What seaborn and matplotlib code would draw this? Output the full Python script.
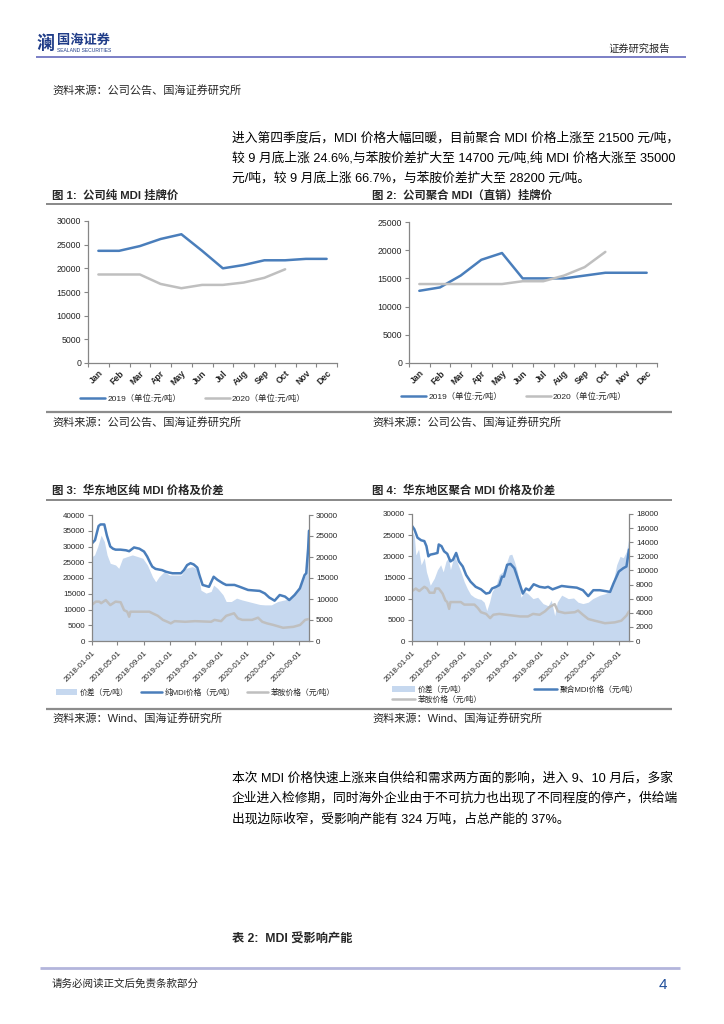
import numpy as np
import pandas as pd
import matplotlib
matplotlib.use('Agg')
import matplotlib.pyplot as plt
from matplotlib.lines import Line2D
from matplotlib.patches import Patch
import seaborn as sns

sns.set_theme(style='white')
plt.rcParams['font.family'] = ['Liberation Sans', 'Noto Sans CJK SC']
plt.rcParams['axes.unicode_minus'] = False

# ---------------- data ----------------
months = ['Jan', 'Feb', 'Mar', 'Apr', 'May', 'Jun', 'Jul', 'Aug', 'Sep', 'Oct', 'Nov', 'Dec']
pure_2019 = [23700, 23700, 24700, 26200, 27200, 23700, 20000, 20700, 21700, 21700, 22000, 22000]
pure_2020 = [18700, 18700, 18700, 16700, 15800, 16500, 16500, 17000, 18000, 19800]
poly_2019 = [12800, 13400, 15500, 18300, 19500, 15000, 15000, 15000, 15500, 16000, 16000, 16000]
poly_2020 = [14000, 14000, 14000, 14000, 14000, 14500, 14500, 15500, 17000, 19700]

date_ticks = ['2018-01-01', '2018-05-01', '2018-09-01', '2019-01-01', '2019-05-01',
              '2019-09-01', '2020-01-01', '2020-05-01', '2020-09-01']

# Fig 3: East China pure MDI
pure_dates = ['2018-01-01', '2018-01-15', '2018-02-01', '2018-02-10', '2018-02-28', '2018-03-12',
              '2018-03-28', '2018-04-10', '2018-04-22', '2018-05-15', '2018-06-10', '2018-06-25',
              '2018-07-18', '2018-08-12', '2018-09-03', '2018-09-18', '2018-10-03', '2018-10-12',
              '2018-10-27', '2018-11-27', '2018-12-15', '2019-01-01', '2019-01-15', '2019-02-24',
              '2019-03-10', '2019-03-25', '2019-04-10', '2019-04-25', '2019-05-12', '2019-05-22',
              '2019-06-06', '2019-07-06', '2019-07-28', '2019-08-15', '2019-09-10', '2019-09-25',
              '2019-11-03', '2019-11-28', '2020-01-06', '2020-03-01', '2020-03-25', '2020-04-15',
              '2020-05-10', '2020-06-03', '2020-06-28', '2020-07-18', '2020-08-12', '2020-09-06',
              '2020-09-28', '2020-10-06', '2020-10-15', '2020-10-19']
pure_price = [31000, 32000, 36500, 37000, 37000, 33500,
              30000, 29300, 29000, 29000, 28800, 28500,
              29700, 29300, 28400, 26800, 24700, 23600,
              22900, 22500, 22000, 21700, 21500, 21500,
              22500, 24100, 24700, 24300, 23300, 20900,
              17800, 17200, 20400, 19400, 18300, 17800,
              17800, 17200, 16200, 15900, 15100, 13800,
              12800, 14600, 14100, 13000, 14600, 16700,
              20900, 21500, 29400, 35000]

ani3_dates = ['2018-01-01', '2018-01-19', '2018-02-04', '2018-02-13', '2018-03-07', '2018-03-28',
              '2018-04-22', '2018-05-16', '2018-06-01', '2018-06-16', '2018-06-25', '2018-07-01',
              '2018-09-28', '2018-10-13', '2018-11-07', '2018-12-01', '2018-12-22', '2019-01-07',
              '2019-01-25', '2019-03-16', '2019-05-01', '2019-07-16', '2019-08-01', '2019-09-01',
              '2019-09-25', '2019-11-01', '2019-11-19', '2019-12-10', '2020-01-25', '2020-02-22',
              '2020-03-13', '2020-04-04', '2020-05-04', '2020-06-19', '2020-08-07', '2020-09-07',
              '2020-10-01', '2020-10-19']
ani3_price = [11500, 12500, 12500, 12000, 13000, 11400,
              12500, 12300, 9800, 9300, 7700, 9300,
              9300, 8800, 8000, 6700, 6100, 5600,
              6300, 6100, 6300, 6100, 6700, 6300,
              8000, 8800, 7200, 6700, 6700, 7400,
              6100, 5600, 5100, 4200, 4500, 5100,
              6700, 7000]

spr3_dates = ['2018-01-01', '2018-01-13', '2018-01-28', '2018-02-13', '2018-02-28', '2018-03-13',
              '2018-03-28', '2018-04-22', '2018-05-07', '2018-05-25', '2018-06-16', '2018-07-10',
              '2018-08-04', '2018-08-28', '2018-09-19', '2018-10-13', '2018-10-28', '2018-11-13',
              '2018-12-07', '2019-01-01', '2019-02-25', '2019-03-19', '2019-04-19', '2019-05-07',
              '2019-05-22', '2019-05-29', '2019-06-22', '2019-07-16', '2019-07-28', '2019-08-16',
              '2019-09-10', '2019-09-25', '2019-10-19', '2019-11-13', '2019-12-07', '2020-01-22',
              '2020-03-01', '2020-03-25', '2020-04-25', '2020-05-25', '2020-06-28', '2020-07-28',
              '2020-08-28', '2020-09-22', '2020-10-07', '2020-10-13', '2020-10-19']
spr3_value = [20100, 20500, 22500, 25200, 23700, 20500,
              18500, 18100, 17300, 19700, 20100, 20500,
              20100, 19700, 18100, 15300, 14100, 15300,
              16500, 15700, 15700, 17300, 17700, 17300,
              14300, 12100, 11400, 11800, 13300, 12500,
              11000, 9400, 9400, 10200, 9800, 9200,
              8700, 8600, 8600, 9400, 9800, 10200,
              11800, 14900, 16000, 22000, 28200]

# Fig 4: East China polymeric MDI
poly_dates = ['2018-01-01', '2018-01-12', '2018-01-27', '2018-02-13', '2018-02-28', '2018-03-10',
              '2018-03-19', '2018-03-28', '2018-04-16', '2018-05-01', '2018-05-07', '2018-05-20',
              '2018-06-01', '2018-06-16', '2018-07-01', '2018-07-13', '2018-07-28', '2018-08-10',
              '2018-08-28', '2018-09-13', '2018-10-04', '2018-10-28', '2018-11-22', '2018-12-16',
              '2019-01-01', '2019-01-13', '2019-02-01', '2019-02-16', '2019-03-01', '2019-03-10',
              '2019-03-25', '2019-04-10', '2019-04-28', '2019-05-13', '2019-05-25', '2019-06-07',
              '2019-06-22', '2019-07-07', '2019-07-28', '2019-08-25', '2019-09-19', '2019-10-04',
              '2019-10-25', '2019-12-07', '2020-01-07', '2020-02-16', '2020-03-16', '2020-04-10',
              '2020-05-04', '2020-06-04', '2020-07-22', '2020-08-07', '2020-09-01', '2020-09-22',
              '2020-10-07', '2020-10-19']
poly_price = [27200, 26400, 24400, 23800, 23600, 22400,
              20000, 20400, 20600, 20800, 22800, 22400,
              21200, 20600, 18800, 19200, 20800, 18800,
              17600, 15600, 14000, 12800, 12200, 11200,
              11400, 12400, 12800, 13200, 15200, 15200,
              18000, 18200, 17200, 15000, 13200, 11200,
              12400, 12000, 13400, 12800, 12600, 12800,
              12200, 13000, 12800, 12600, 12000, 10600,
              12000, 12000, 11600, 13600, 16400, 17200,
              17600, 21600]

ani4_dates = ['2018-01-01', '2018-01-19', '2018-02-04', '2018-02-28', '2018-03-13', '2018-03-25',
              '2018-04-16', '2018-04-22', '2018-05-07', '2018-05-25', '2018-06-07', '2018-06-16',
              '2018-06-25', '2018-07-01', '2018-08-19', '2018-09-04', '2018-10-22', '2018-11-07',
              '2018-11-22', '2018-12-16', '2019-01-04', '2019-01-19', '2019-02-16', '2019-05-25',
              '2019-07-01', '2019-07-25', '2019-08-25', '2019-09-19', '2019-10-10', '2019-11-04',
              '2019-11-19', '2019-12-22', '2020-02-07', '2020-02-22', '2020-03-16', '2020-04-10',
              '2020-05-10', '2020-06-28', '2020-08-13', '2020-09-13', '2020-10-07', '2020-10-19']
ani4_price = [11800, 12400, 11800, 12800, 12400, 11400,
              11400, 12400, 12400, 11200, 9600, 9200,
              7600, 9200, 9200, 8600, 8600, 7800,
              6800, 6400, 5400, 6200, 6400, 5800,
              5800, 6400, 6200, 7000, 8000, 8700,
              7000, 6600, 6800, 7200, 6200, 5200,
              4800, 4200, 4400, 4800, 6000, 7000]

spr4_dates = ['2018-01-01', '2018-01-12', '2018-01-19', '2018-02-01', '2018-02-13', '2018-02-28',
              '2018-03-10', '2018-03-19', '2018-03-28', '2018-04-16', '2018-05-01', '2018-05-16',
              '2018-05-28', '2018-06-10', '2018-06-22', '2018-07-01', '2018-07-19', '2018-08-04',
              '2018-08-19', '2018-09-04', '2018-09-19', '2018-10-04', '2018-10-22', '2018-11-07',
              '2018-11-22', '2018-12-07', '2018-12-19', '2019-01-01', '2019-01-13', '2019-02-01',
              '2019-02-16', '2019-03-04', '2019-03-19', '2019-04-04', '2019-04-16', '2019-04-28',
              '2019-05-13', '2019-05-25', '2019-05-29', '2019-06-16', '2019-07-01', '2019-07-25',
              '2019-08-16', '2019-09-10', '2019-10-04', '2019-10-19', '2019-11-04', '2019-11-16',
              '2019-12-07', '2020-01-07', '2020-02-01', '2020-02-22', '2020-03-16', '2020-04-10',
              '2020-05-01', '2020-06-04', '2020-06-28', '2020-07-28', '2020-08-22', '2020-09-07',
              '2020-09-22', '2020-10-07', '2020-10-19']
spr4_value = [15600, 14900, 12200, 13000, 10800, 11800,
              9800, 8900, 7900, 8900, 10100, 10800,
              9800, 11300, 11800, 10100, 12200, 11000,
              9800, 8400, 7400, 6600, 6200, 6000,
              5900, 5500, 4300, 5500, 7000, 7900,
              9400, 9800, 10800, 12200, 12300, 11300,
              9800, 7400, 6200, 7000, 6700, 6000,
              6200, 5300, 5000, 5800, 3600, 5500,
              6500, 6000, 6100, 5500, 5300, 5500,
              6000, 6500, 6700, 7200, 10800, 12000,
              11800, 12700, 14700]

# ---------------- styling ----------------
W, H = 724, 1024
BLUE = '#4a7ebb'
GREY = '#bfbfbf'
FILL = '#c6d8ef'
SPINE = '#868686'
TXT = '#262626'
LW = 1.8

fig = plt.figure(figsize=(W / 100, H / 100), dpi=100)
fig.patch.set_facecolor('white')


def fx(x):
    return x / W


def fy(y):
    return 1 - y / H


def box(l, t, r, b):
    return [fx(l), fy(b), (r - l) / W, (b - t) / H]


def hline(x0, x1, y, color, lw):
    fig.add_artist(Line2D([fx(x0), fx(x1)], [fy(y), fy(y)], transform=fig.transFigure,
                          color=color, lw=lw, solid_capstyle='butt'))


def style_axes(ax, right=False):
    for s in ['top', 'right', 'left', 'bottom']:
        ax.spines[s].set_visible(False)
    ax.spines['bottom'].set_visible(True)
    ax.spines['bottom'].set_color(SPINE)
    ax.spines['bottom'].set_linewidth(0.9)
    side = 'right' if right else 'left'
    ax.spines[side].set_visible(True)
    ax.spines[side].set_color(SPINE)
    ax.spines[side].set_linewidth(0.9)
    ax.grid(False)
    ax.set_xlabel('')
    ax.set_ylabel('')


# ---------------- header ----------------
fig.text(fx(37), fy(44), '澜', fontsize=13, fontweight='bold', color='#1f3c88', va='center', ha='left')
fig.text(fx(57), fy(41), '国海证券', fontsize=9.5, fontweight='bold', color='#1f3c88', va='center', ha='left')
fig.text(fx(57), fy(51), 'SEALAND SECURITIES', fontsize=3.6, color='#1f3c88', va='center', ha='left')
fig.text(fx(670), fy(49), '证券研究报告', fontsize=7.4, color=TXT, va='center', ha='right')
hline(36, 686, 57, '#7b7fc6', 1.4)

fig.text(fx(52), fy(90), '资料来源：公司公告、国海证券研究所', fontsize=8, color=TXT, va='center')

para1 = ['进入第四季度后，MDI 价格大幅回暖，目前聚合 MDI 价格上涨至 21500 元/吨，',
         '较 9 月底上涨 24.6%,与苯胺价差扩大至 14700 元/吨,纯 MDI 价格大涨至 35000',
         '元/吨，较 9 月底上涨 66.7%，与苯胺价差扩大至 28200 元/吨。']
for i, line in enumerate(para1):
    fig.text(fx(232), fy(138 + 20 * i), line, fontsize=9.2, color='black', va='center')

# ---------------- chart titles ----------------
fig.text(fx(52), fy(195), '图 1:  公司纯 MDI 挂牌价', fontsize=8.2, fontweight='bold', va='center')
fig.text(fx(372), fy(195), '图 2:  公司聚合 MDI（直销）挂牌价', fontsize=8.2, fontweight='bold', va='center')
hline(46, 672, 204, '#7f7f7f', 1.3)

# ---------------- chart 1 & 2 ----------------
def month_chart(rect, s19, s20, ymax, leg_x, leg_y):
    ax = fig.add_axes(rect)
    sns.lineplot(x=months, y=s19, ax=ax, color=BLUE, lw=LW, sort=False)
    sns.lineplot(x=months[:len(s20)], y=s20, ax=ax, color=GREY, lw=LW, sort=False)
    style_axes(ax)
    ax.set_xlim(-0.5, 11.5)
    ax.set_ylim(0, ymax)
    ax.set_yticks(np.arange(0, ymax + 1, 5000))
    ax.set_yticklabels([str(int(v)) for v in np.arange(0, ymax + 1, 5000)], fontsize=6.3, color=TXT)
    ax.set_xticks(range(12))
    ax.set_xticklabels(months, rotation=45, ha='right', rotation_mode='anchor', fontsize=6.3,
                       color=TXT, fontweight='bold')
    ax.set_xticks(np.arange(-0.5, 12, 1), minor=True)
    ax.tick_params(axis='x', which='major', length=0, pad=4)
    ax.tick_params(axis='x', which='minor', length=3, width=0.8, color=SPINE, bottom=True)
    ax.tick_params(axis='y', length=3, width=0.8, color=SPINE, left=True, pad=2)
    handles = [Line2D([], [], color=BLUE, lw=LW), Line2D([], [], color=GREY, lw=LW)]
    ax.legend(handles, ['2019（单位:元/吨）', '2020（单位:元/吨）'], ncol=2, loc='center left',
              bbox_to_anchor=(fx(leg_x), fy(leg_y)), bbox_transform=fig.transFigure, frameon=False,
              fontsize=6, handlelength=3.0, handletextpad=0.3, columnspacing=2.8,
              borderpad=0, borderaxespad=0)
    return ax


month_chart(box(88, 221, 337, 363), pure_2019, pure_2020, 30000, 80, 399)
month_chart(box(409, 222, 657, 363), poly_2019, poly_2020, 25000, 401, 397)

hline(46, 672, 412, '#8c8c8c', 1.6)
fig.text(fx(52), fy(422), '资料来源：公司公告、国海证券研究所', fontsize=8, color=TXT, va='center')
fig.text(fx(372), fy(422), '资料来源：公司公告、国海证券研究所', fontsize=8, color=TXT, va='center')

# ---------------- chart 3 & 4 ----------------
fig.text(fx(52), fy(490), '图 3:  华东地区纯 MDI 价格及价差', fontsize=8.2, fontweight='bold', va='center')
fig.text(fx(372), fy(490), '图 4:  华东地区聚合 MDI 价格及价差', fontsize=8.2, fontweight='bold', va='center')
hline(46, 672, 500, '#7f7f7f', 1.3)


def price_chart(rect, mdi_d, mdi_v, ani_d, ani_v, spr_d, spr_v, lmax, rmax, rstep, mdi_label, two_rows,
                leg_x, leg_y):
    ax = fig.add_axes(rect)
    axr = ax.twinx()
    axr.fill_between(pd.to_datetime(spr_d), spr_v, 0, color=FILL, lw=0)
    sns.lineplot(x=pd.to_datetime(ani_d), y=ani_v, ax=ax, color=GREY, lw=LW)
    sns.lineplot(x=pd.to_datetime(mdi_d), y=mdi_v, ax=ax, color=BLUE, lw=LW)
    ax.set_zorder(axr.get_zorder() + 1)
    ax.patch.set_visible(False)
    style_axes(ax)
    style_axes(axr, right=True)
    axr.spines['bottom'].set_visible(False)
    x0, x1 = pd.Timestamp('2018-01-01'), pd.Timestamp('2020-10-19')
    ax.set_xlim(x0, x1)
    ax.set_ylim(0, lmax)
    axr.set_ylim(0, rmax)
    lt = np.arange(0, lmax + 1, 5000)
    ax.set_yticks(lt)
    ax.set_yticklabels([str(int(v)) for v in lt], fontsize=5.8, color=TXT)
    rt = np.arange(0, rmax + 1, rstep)
    axr.set_yticks(rt)
    axr.set_yticklabels([str(int(v)) for v in rt], fontsize=5.8, color=TXT)
    ax.set_xticks(pd.to_datetime(date_ticks))
    ax.set_xticklabels(date_ticks, rotation=45, ha='right', rotation_mode='anchor', fontsize=5.8, color=TXT)
    ax.tick_params(axis='x', length=3, width=0.8, color=SPINE, bottom=True, pad=3)
    ax.tick_params(axis='y', length=3, width=0.8, color=SPINE, left=True, pad=2)
    axr.tick_params(axis='y', length=3, width=0.8, color=SPINE, right=True, pad=2)
    h_spr = Patch(facecolor=FILL, edgecolor='none')
    h_mdi = Line2D([], [], color=BLUE, lw=LW)
    h_ani = Line2D([], [], color=GREY, lw=LW)
    if not two_rows:
        ax.legend([h_spr, h_mdi, h_ani], ['价差（元/吨）', mdi_label, '苯胺价格（元/吨）'], ncol=3,
                  loc='center left', bbox_to_anchor=(fx(leg_x), fy(leg_y)), bbox_transform=fig.transFigure,
                  frameon=False, fontsize=5.6, handlelength=2.7, handleheight=0.8, handletextpad=0.35,
                  columnspacing=1.6, borderpad=0, borderaxespad=0)
    else:
        ax.legend([h_spr, h_ani, h_mdi], ['价差（元/吨）', '苯胺价格（元/吨）', mdi_label], ncol=2,
                  loc='upper left', bbox_to_anchor=(fx(leg_x), fy(leg_y)), bbox_transform=fig.transFigure,
                  frameon=False, fontsize=5.6, handlelength=2.9, handleheight=0.8, handletextpad=0.35,
                  columnspacing=6.8, labelspacing=0.2, borderpad=0, borderaxespad=0)
    return ax


price_chart(box(92, 515, 309, 641), pure_dates, pure_price, ani3_dates, ani3_price, spr3_dates, spr3_value,
            40000, 30000, 5000, '纯MDI价格（元/吨）', False, 56, 693)
price_chart(box(412, 514, 629, 641), poly_dates, poly_price, ani4_dates, ani4_price, spr4_dates, spr4_value,
            30000, 18000, 2000, '聚合MDI价格（元/吨）', True, 392, 686)

hline(46, 672, 709, '#8c8c8c', 1.6)
fig.text(fx(52), fy(718), '资料来源：Wind、国海证券研究所', fontsize=8, color=TXT, va='center')
fig.text(fx(372), fy(718), '资料来源：Wind、国海证券研究所', fontsize=8, color=TXT, va='center')

para2 = ['本次 MDI 价格快速上涨来自供给和需求两方面的影响，进入 9、10 月后，多家',
         '企业进入检修期，同时海外企业由于不可抗力也出现了不同程度的停产，供给端',
         '出现边际收窄，受影响产能有 324 万吨，占总产能的 37%。']
for i, line in enumerate(para2):
    fig.text(fx(232), fy(778 + 20.5 * i), line, fontsize=9.2, color='black', va='center')

fig.text(fx(232), fy(940), '表 2:  MDI 受影响产能', fontsize=8.8, fontweight='bold', va='center')

# ---------------- footer ----------------
hline(40, 680, 968, '#b3b5dc', 2.0)
fig.text(fx(52), fy(984), '请务必阅读正文后免责条款部分', fontsize=7.6, color=TXT, va='center')
fig.text(fx(667), fy(985), '4', fontsize=11, color='#1f4e9a', va='center', ha='right')

fig.savefig('out.png', dpi=100, facecolor='white')
